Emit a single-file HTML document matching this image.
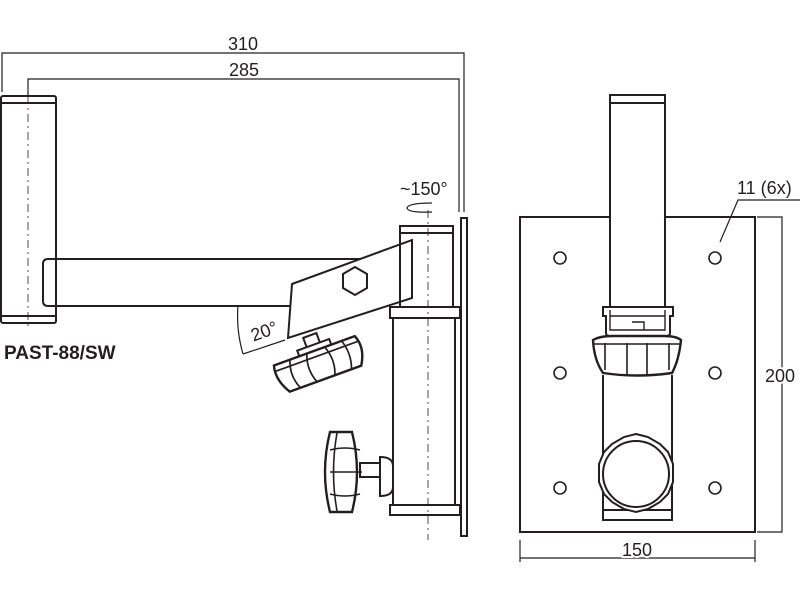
<!DOCTYPE html>
<html><head><style>html,body{margin:0;padding:0;background:#fff}svg{display:block}</style></head><body>
<svg width="800" height="600" viewBox="0 0 800 600" xmlns="http://www.w3.org/2000/svg" font-family="Liberation Sans, sans-serif">
<g fill="none" stroke="#231f20" stroke-width="2">
<g stroke-width="1.2">
<polyline points="2,92 2,53 464,53 464,212"/>
<polyline points="28,96 28,79 459,79 459,212"/>
</g>
<rect x="1" y="96" width="55" height="227" rx="2"/>
<line x1="1" y1="103" x2="56" y2="103"/>
<line x1="1" y1="316" x2="56" y2="316"/>
<line x1="28" y1="96" x2="28" y2="330" stroke-width="0.8" stroke-dasharray="8,4,2,4"/>
<path d="M56,259 H360 M56,306 H292 M56,259 H48 Q43,259 43,264 V301 Q43,306 48,306 H56"/>
<!-- 20 deg -->
<g stroke-width="1.2">
<path d="M238,305 Q236,330 243,354"/>
<line x1="243" y1="354" x2="285" y2="340"/>
</g>
<!-- lower-left knob -->
<g transform="translate(318,358) rotate(-20)">
<rect x="-7" y="-24" width="14" height="11" fill="#fff"/>
<rect x="-17" y="-14" width="34" height="6" fill="#fff"/>
<path d="M-44,-8 H42 Q48,6 38,22 H-38 Q-48,6 -44,-8 Z" fill="#fff" stroke-width="2.4"/>
<path d="M-27,-8 Q-33,7 -27,21 M-9,-8 Q-15,7 -9,22 M10,-8 Q16,7 10,22 M28,-8 Q33,7 28,21 M-44,-2 H44" stroke-width="1.7"/>
</g>
<!-- angled plate -->
<polygon points="292,284 412,240 412,298 288,338" fill="#fff"/>
<polygon points="355,267 367,274 367,288 355,295 343,288 343,274"/>
<!-- vertical assembly -->
<rect x="400" y="226" width="53" height="81"/>
<line x1="400" y1="233" x2="453" y2="233"/>
<rect x="390" y="307" width="70" height="11"/>
<rect x="393" y="318" width="62" height="187"/>
<rect x="390" y="505" width="70" height="10"/>
<rect x="461" y="218" width="6" height="318"/>
<line x1="428" y1="210" x2="428" y2="540" stroke-width="0.8" stroke-dasharray="8,4,2,4"/>
<path d="M432,203 Q408,203 407,208 Q408,213 432,212" stroke-width="1.3"/>
<!-- side knob -->
<path d="M380,457 Q393,457 393,466 V487 Q393,496 380,496 Z"/>
<rect x="360" y="463" width="20" height="14"/>
<path d="M330,432 H352 Q362,472 352,512 H330 Q320,472 330,432 Z" fill="#fff" stroke-width="2.4"/>
<path d="M337,433 Q330,472 337,511 M330,450 Q345,446 360,450 M330,472 H362 M330,494 Q345,498 360,494" stroke-width="1.6"/>
<!-- right view -->
<rect x="520" y="217" width="235" height="315"/>
<g stroke-width="1.6">
<circle cx="560" cy="258" r="6"/><circle cx="715" cy="258" r="6"/>
<circle cx="560" cy="373" r="6"/><circle cx="715" cy="373" r="6"/>
<circle cx="560" cy="488" r="6"/><circle cx="715" cy="488" r="6"/>
</g>
<rect x="610" y="95" width="55" height="215" fill="#fff"/>
<line x1="610" y1="103" x2="665" y2="103"/>
<path d="M603,307 H673 V316 H670 V333 Q670,336 666,336 H610 Q606,336 606,333 V316 H603 Z" fill="#fff"/>
<path d="M610,310 V330 H665 V310 M632,322 H644 V330 M610,316 H665" stroke-width="1.4"/>
<path d="M593,340 Q600,336 612,336 H664 Q676,336 681,340 Q679,360 672,373 Q637,378 603,373 Q594,360 593,340 Z" fill="#fff" stroke-width="2.4"/>
<path d="M605,343 V370 M627,343 V375 M647,343 V375 M669,343 V370 M593,344 H681" stroke-width="1.6"/>
<line x1="603" y1="375" x2="603" y2="515"/><line x1="672" y1="375" x2="672" y2="515"/>
<rect x="603" y="510" width="69" height="10"/>
<path d="M636,434 L648,437 L660,444 L668,452 L673,464 L673,482 L668,494 L660,502 L648,509 L636,512 L624,509 L612,502 L604,494 L599,482 L599,464 L604,452 L612,444 L624,437 Z" fill="#fff"/>
<circle cx="636" cy="474" r="33"/>
<g stroke-width="1.2">
<polyline points="757,217 782,217 782,532 757,532"/>
<line x1="520" y1="540" x2="520" y2="562"/>
<line x1="755" y1="540" x2="755" y2="562"/>
<line x1="520" y1="558" x2="755" y2="558"/>
<polyline points="720,242 738,200 800,200"/>
</g>
</g>
<g fill="#231f20" font-size="18">
<text x="243" y="50" text-anchor="middle">310</text>
<text x="244" y="76" text-anchor="middle">285</text>
<text x="400" y="195">~150°</text>
<text x="250" y="338" transform="rotate(-20 262 330)">20°</text>
<text x="737" y="194">11 (6x)</text>
<text x="765" y="382" stroke="#fff" stroke-width="4" paint-order="stroke">200</text>
<text x="637" y="556" text-anchor="middle" stroke="#fff" stroke-width="4" paint-order="stroke">150</text>
<text x="4" y="359" font-weight="bold" font-size="19">PAST-88/SW</text>
</g>
</svg>
</body></html>
